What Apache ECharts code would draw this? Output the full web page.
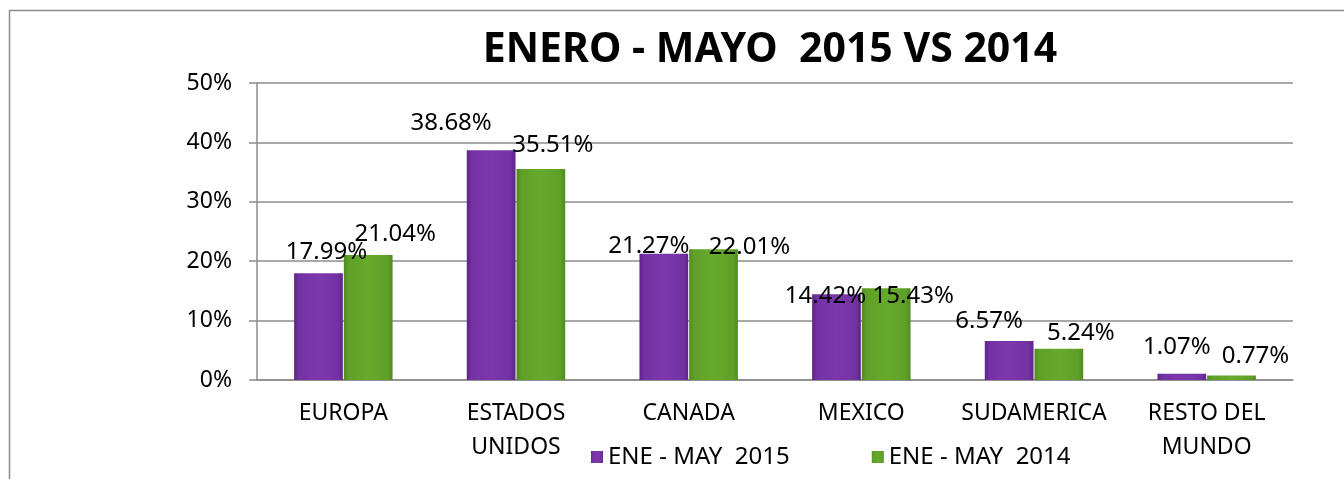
<!DOCTYPE html>
<html>
<head>
<meta charset="utf-8">
<script src="https://cdn.jsdelivr.net/npm/echarts@6/dist/echarts.min.js"></script>
<style>
  html, body { margin: 0; padding: 0; background: #fff; }
  #chart { width: 1344px; height: 479px; }
</style>
</head>
<body>
<div id="chart"></div>
<script>
// data
var categories = ['EUROPA', 'ESTADOS\nUNIDOS', 'CANADA', 'MEXICO', 'SUDAMERICA', 'RESTO DEL\nMUNDO'];
var seriesNames = ['ENE - MAY  2015', 'ENE - MAY  2014'];
var values2015 = [17.99, 38.68, 21.27, 14.42, 6.57, 1.07];
var values2014 = [21.04, 35.51, 22.01, 15.43, 5.24, 0.77];
var yTicks = [0, 10, 20, 30, 40, 50];

// hand-placed label nudges (dx, dy) like in the original sheet
var nudge2015 = [[8, -8], [-40, -14], [-15, 6], [-11, 15], [-20, -7], [-5, -13]];
var nudge2014 = [[27, -8], [12, -11], [36, 11], [27, 21], [22, -3], [24, -6]];

var font = '"Noto Sans", sans-serif';

function bevel(dark, mid, light) {
    return new echarts.graphic.LinearGradient(0, 0, 1, 0, [
        {offset: 0, color: dark},
        {offset: 0.1, color: mid},
        {offset: 0.5, color: light},
        {offset: 0.9, color: mid},
        {offset: 1, color: dark}
    ]);
}
var purple = bevel('#5e2388', '#7332a3', '#7b38ad');
var green = bevel('#4f8a1f', '#5fa028', '#66aa2c');

function withNudge(vals, nudges) {
    return vals.map(function (v, i) {
        return {value: v, label: {offset: nudges[i]}};
    });
}

var chart = echarts.init(document.getElementById('chart'));
var option = {
    backgroundColor: '#fff',
    animation: false,
    textStyle: {fontFamily: font},
    title: {
        text: 'ENERO - MAYO  2015 VS 2014',
        left: 765,
        textAlign: 'center',
        top: 25,
        textStyle: {fontFamily: font, fontSize: 41, fontWeight: 'bold', color: '#000'}
    },
    graphic: [{
        type: 'rect',
        shape: {x: 9.5, y: 10.5, width: 1400, height: 500},
        style: {fill: 'none', stroke: '#8c8c8c', lineWidth: 1.5},
        silent: true
    }],
    legend: {
        data: seriesNames,
        left: 586,
        top: 440,
        icon: 'rect',
        itemWidth: 12,
        itemHeight: 12,
        itemGap: 82,
        textStyle: {fontFamily: font, fontSize: 24, color: '#000'}
    },
    grid: {left: 257, right: 51, top: 83, bottom: 99},
    xAxis: {
        type: 'category',
        data: categories,
        axisLine: {lineStyle: {color: '#8c8c8c', width: 1.5}},
        axisTick: {length: 8, lineStyle: {color: '#8c8c8c', width: 1.5}},
        axisLabel: {
            interval: 0,
            margin: 16,
            fontFamily: font,
            fontSize: 23,
            lineHeight: 34,
            color: '#000'
        }
    },
    yAxis: {
        type: 'value',
        min: yTicks[0],
        max: yTicks[yTicks.length - 1],
        interval: 10,
        axisLine: {show: true, lineStyle: {color: '#8c8c8c', width: 1.5}},
        axisTick: {show: true, length: 8, lineStyle: {color: '#8c8c8c', width: 1.5}},
        splitLine: {lineStyle: {color: '#8c8c8c', width: 1.5}},
        axisLabel: {
            margin: 25,
            formatter: '{value}%',
            fontFamily: font,
            fontSize: 23,
            color: '#000'
        }
    },
    series: [
        {
            name: seriesNames[0],
            type: 'bar',
            barGap: '2%',
            barCategoryGap: '43%',
            itemStyle: {color: purple},
            label: {
                show: true,
                position: 'top',
                distance: 1,
                formatter: function (p) { return p.value.toFixed(2) + '%'; },
                fontFamily: font,
                fontSize: 24,
                color: '#000'
            },
            data: withNudge(values2015, nudge2015)
        },
        {
            name: seriesNames[1],
            type: 'bar',
            barGap: '2%',
            barCategoryGap: '43%',
            itemStyle: {color: green},
            label: {
                show: true,
                position: 'top',
                distance: 1,
                formatter: function (p) { return p.value.toFixed(2) + '%'; },
                fontFamily: font,
                fontSize: 24,
                color: '#000'
            },
            data: withNudge(values2014, nudge2014)
        }
    ]
};
chart.setOption(option);
</script>
</body>
</html>
